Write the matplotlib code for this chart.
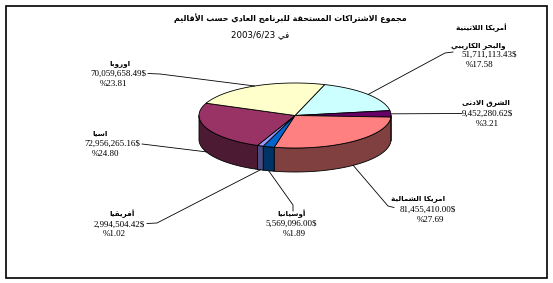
import numpy as np
import matplotlib
matplotlib.use("Agg")
import matplotlib.pyplot as plt
from matplotlib.patches import Polygon, Rectangle

# ---------------- data ----------------
title_line1 = "مجموع الاشتراكات المستحقة للبرنامج العادي حسب الأقاليم"
title_line2 = "في 2003/6/23"
regions = ["أمريكا اللاتينية\nوالبحر الكاريبي", "الشرق الادنى", "امريكا الشمالية",
           "أوسيانيا", "أفريقيا", "اسيا", "اوروبا"]
amounts = [51711113.43, 9452280.62, 81455410.00, 5569096.00, 2994504.42,
           72956265.16, 70059658.49]
percents = [17.58, 3.21, 27.69, 1.89, 1.02, 24.80, 23.81]
top_colors = ["#CCFFFF", "#660066", "#FF8080", "#0066CC", "#9999FF", "#993366", "#FFFFCC"]
side_colors = ["#668080", "#330033", "#804040", "#003366", "#4C4C80", "#4C1A33", "#808066"]

# ---------------- minimal Arabic shaping (presentation forms, visual order) ----------------
_DUAL = {'ئ': 0xFE89, 'ب': 0xFE8F, 'ت': 0xFE95, 'ث': 0xFE99, 'ج': 0xFE9D, 'ح': 0xFEA1,
         'خ': 0xFEA5, 'س': 0xFEB1, 'ش': 0xFEB5, 'ص': 0xFEB9, 'ض': 0xFEBD, 'ط': 0xFEC1,
         'ظ': 0xFEC5, 'ع': 0xFEC9, 'غ': 0xFECD, 'ف': 0xFED1, 'ق': 0xFED5, 'ك': 0xFED9,
         'ل': 0xFEDD, 'م': 0xFEE1, 'ن': 0xFEE5, 'ه': 0xFEE9, 'ي': 0xFEF1}
_RIGHT = {'آ': 0xFE81, 'أ': 0xFE83, 'ؤ': 0xFE85, 'إ': 0xFE87, 'ا': 0xFE8D, 'ة': 0xFE93,
          'د': 0xFEA9, 'ذ': 0xFEAB, 'ر': 0xFEAD, 'ز': 0xFEAF, 'و': 0xFEED, 'ى': 0xFEEF}
_LAMALEF = {'آ': 0xFEF5, 'أ': 0xFEF7, 'إ': 0xFEF9, 'ا': 0xFEFB}


def _is_ar(u):
    return u[0] == 'LA' or u[1] in _DUAL or u[1] in _RIGHT


def shape_word(w):
    if not any(ch in _DUAL or ch in _RIGHT for ch in w):
        return w
    units, i = [], 0
    while i < len(w):
        c = w[i]
        if c == 'ل' and i + 1 < len(w) and w[i + 1] in _LAMALEF:
            units.append(('LA', w[i + 1]))
            i += 2
        else:
            units.append(('C', c))
            i += 1
    out = []
    for k, u in enumerate(units):
        prev = units[k - 1] if k > 0 else None
        nxt = units[k + 1] if k + 1 < len(units) else None
        jp = prev is not None and prev[0] == 'C' and prev[1] in _DUAL and _is_ar(u)
        if u[0] == 'LA':
            out.append(chr(_LAMALEF[u[1]] + (1 if jp else 0)))
            continue
        c = u[1]
        if c in _DUAL:
            jn = nxt is not None and _is_ar(nxt)
            off = 3 if (jp and jn) else 2 if jn else 1 if jp else 0
            out.append(chr(_DUAL[c] + off))
        elif c in _RIGHT:
            out.append(chr(_RIGHT[c] + (1 if jp else 0)))
        else:
            out.append(c)
    return ''.join(reversed(out))


def visual(line):
    return ' '.join(shape_word(w) for w in reversed(line.split(' ')))


# ---------------- figure ----------------
W, H = 553, 283
fig = plt.figure(figsize=(W / 100, H / 100), dpi=100)
ax = fig.add_axes([0, 0, 1, 1])
ax.set_xlim(0, W)
ax.set_ylim(H, 0)
ax.axis('off')

ax.add_patch(Rectangle((5.5, 5.5), 541.5, 272, fill=False, edgecolor='black', lw=1.2))

AR = 'DejaVu Sans'
NUM = 'Liberation Serif'

ax.text(290, 18, visual(title_line1), ha='center', va='center', fontsize=5.8,
        fontweight='bold', family=AR)
ax.text(260, 35, visual(title_line2), ha='center', va='center', fontsize=6.2, family=AR)

# ---------------- 3D pie ----------------
cx, cy, rx, ry, depth = 295, 115.5, 96, 32.5, 24
start = 72.0
vals = np.array(amounts)
fr = vals / vals.sum()
ends = start - np.cumsum(fr) * 360
starts = np.concatenate([[start], ends[:-1]])


def pt(theta_deg, dz=0.0):
    t = np.radians(theta_deg)
    return cx + rx * np.cos(t), cy - ry * np.sin(t) + dz


# side walls: only the front half (sin < 0)
for i in range(len(vals)):
    a0, a1 = ends[i], starts[i]
    for shift in (-360, 0, 360):
        lo = max(a0 + shift, -180)
        hi = min(a1 + shift, 0)
        if hi > lo:
            t = np.radians(np.linspace(lo, hi, 60))
            xs = cx + rx * np.cos(t)
            ys = cy - ry * np.sin(t)
            poly = np.vstack([np.column_stack([xs, ys]),
                              np.column_stack([xs[::-1], ys[::-1] + depth])])
            ax.add_patch(Polygon(poly, closed=True, facecolor=side_colors[i],
                                 edgecolor='black', lw=0.6, joinstyle='round'))

# top faces
for i in range(len(vals)):
    t = np.radians(np.linspace(starts[i], ends[i], 120))
    xs = cx + rx * np.cos(t)
    ys = cy - ry * np.sin(t)
    poly = np.vstack([[cx, cy], np.column_stack([xs, ys])])
    ax.add_patch(Polygon(poly, closed=True, facecolor=top_colors[i],
                         edgecolor='black', lw=0.6, joinstyle='round'))

# ---------------- labels & leader lines ----------------
label_layout = [
    ([(481, 28), (478, 46)], (489, 55), (480, 65), [(453, 52), (445, 53)]),
    ([(486, 103)], (487, 113.5), (487, 124), [(462, 113.5)]),
    ([(418, 199.5)], (428, 209.5), (430, 219.5), [(394, 207.5), (388, 206)]),
    ([(292, 214)], (291, 224), (294, 233.5), [(293, 211), (293, 205)]),
    ([(122, 214)], (119, 224.5), (114, 234.5), [(147, 223.5), (157, 223)]),
    ([(100, 133.5)], (112, 144), (105, 154.5), [(142, 144)]),
    ([(120, 63.5)], (118, 74), (114, 84.5), [(148, 73.5), (160, 74)]),
]

for i in range(len(vals)):
    name_pos, amt_pos, pct_pos, lead = label_layout[i]
    for line, (x, y) in zip(regions[i].split('\n'), name_pos):
        ax.text(x, y, visual(line), ha='center', va='center', fontsize=5.2,
                fontweight='bold', family=AR)
    ax.text(amt_pos[0], amt_pos[1], f"{amounts[i]:,.2f}$", ha='center', va='center',
            fontsize=6.5, family=NUM)
    ax.text(pct_pos[0], pct_pos[1], f"%{percents[i]:.2f}", ha='center', va='center',
            fontsize=6.5, family=NUM)
    mid = (starts[i] + ends[i]) / 2
    dz = depth if np.sin(np.radians(mid)) < 0 else 0
    px, py = pt(mid, dz)
    pts = lead + [(px, py)]
    ax.plot([p[0] for p in pts], [p[1] for p in pts], color='black', lw=0.6)

fig.savefig("out.png", dpi=100)
